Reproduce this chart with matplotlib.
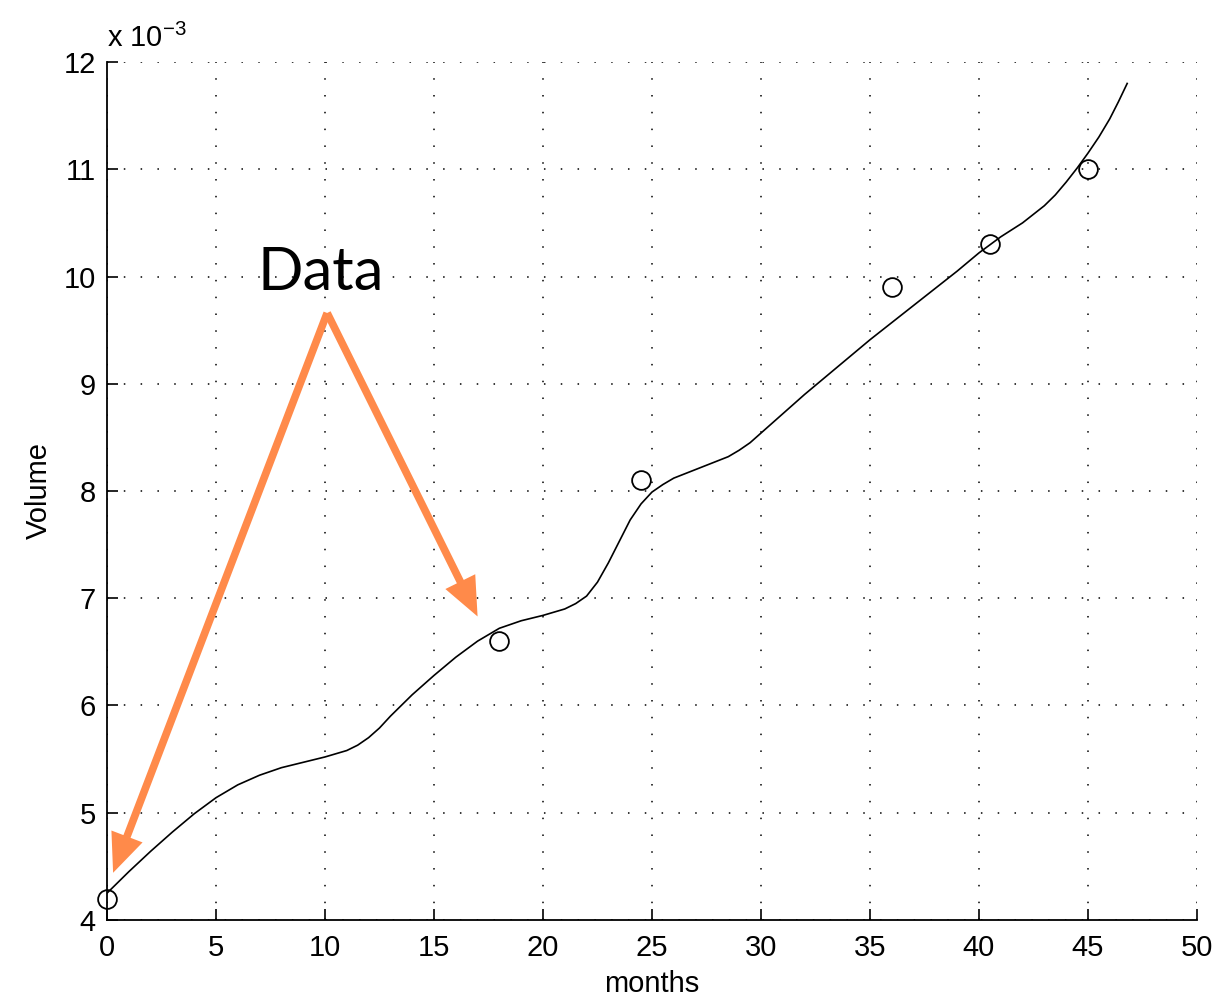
import matplotlib
matplotlib.use("Agg")
import matplotlib.pyplot as plt
from matplotlib.patches import FancyArrowPatch

# data points (months, volume x 1e-3)
data_months = [0, 18, 24.5, 36, 40.5, 45]
data_volume = [4.2, 6.6, 8.1, 9.9, 10.3, 11.0]

# fitted curve
fit_months = [0, 1, 2, 3, 4, 5, 6, 7, 8, 9, 10, 10.5, 11, 11.5, 12, 12.5, 13, 13.5,
              14, 15, 16, 17, 18, 19, 20, 21, 21.5, 22, 22.5, 23, 23.5, 24, 24.5,
              25, 25.5, 26, 27, 28, 28.5, 29, 29.5, 30, 31, 32, 33, 34, 35, 36,
              37, 38, 39, 40, 41, 42, 43, 43.5, 44, 44.5, 45, 45.5, 46, 46.4, 46.8]
fit_volume = [4.25, 4.45, 4.64, 4.82, 4.99, 5.14, 5.26, 5.35, 5.42, 5.47, 5.52, 5.55,
              5.58, 5.63, 5.70, 5.79, 5.90, 6.00, 6.10, 6.28, 6.45, 6.60, 6.72, 6.79,
              6.84, 6.90, 6.95, 7.02, 7.15, 7.33, 7.53, 7.73, 7.88, 7.99, 8.06, 8.12,
              8.20, 8.28, 8.32, 8.38, 8.45, 8.54, 8.72, 8.90, 9.07, 9.24, 9.41, 9.57,
              9.73, 9.89, 10.05, 10.22, 10.37, 10.50, 10.66, 10.76, 10.88, 11.01,
              11.15, 11.30, 11.47, 11.63, 11.80]

x_ticks = [0, 5, 10, 15, 20, 25, 30, 35, 40, 45, 50]
y_ticks = [4, 5, 6, 7, 8, 9, 10, 11, 12]

# annotation: arrow tail and the two tips
arrow_tail = (10.1, 9.66)
arrow_tips = [(0.28, 4.44), (17.0, 6.83)]
orange = "#ff8a4a"

plt.rcParams["font.family"] = ["Liberation Sans", "DejaVu Sans"]
plt.rcParams["mathtext.fontset"] = "custom"
plt.rcParams["mathtext.rm"] = "Liberation Sans"
plt.rcParams["mathtext.it"] = "Liberation Sans"

fig = plt.figure(figsize=(12.2, 10.05), dpi=100)
ax = fig.add_axes([0.0877, 0.0846, 0.8934, 0.8537])

ax.plot(fit_months, fit_volume, color="black", lw=1.2)
ax.plot(data_months, data_volume, "o", mfc="none", mec="black", ms=13.5, mew=1.3,
        clip_on=False)

ax.set_xlim(0, 50)
ax.set_ylim(4, 12)
ax.set_xticks(x_ticks)
ax.set_yticks(y_ticks)
ax.tick_params(direction="in", length=8, width=1.2, labelsize=21)
ax.tick_params(axis="x", pad=10)
ax.tick_params(axis="y", pad=8)
ax.spines["top"].set_visible(False)
ax.spines["right"].set_visible(False)
ax.spines["left"].set_linewidth(1.3)
ax.spines["bottom"].set_linewidth(1.3)
ax.grid(True, color="black", linestyle=(0, (1, 10)), lw=1.1)
ax.set_axisbelow(True)

ax.set_xlabel("months", fontsize=21, labelpad=6)
ax.set_ylabel("Volume", fontsize=21, labelpad=8)
ax.text(0.0, 1.01, r"x 10$^{-3}$", transform=ax.transAxes, fontsize=21,
        ha="left", va="bottom")

for tip in arrow_tips:
    arr = FancyArrowPatch(arrow_tail, tip,
                          arrowstyle="simple,head_width=24,head_length=28,tail_width=5.5",
                          mutation_scale=1, color=orange, lw=0,
                          shrinkA=0, shrinkB=0, zorder=5)
    ax.add_patch(arr)

ax.text(6.9, 9.87, "Data", fontsize=43, family=["Lato", "DejaVu Sans"],
        ha="left", va="baseline")

plt.savefig("out.png")
